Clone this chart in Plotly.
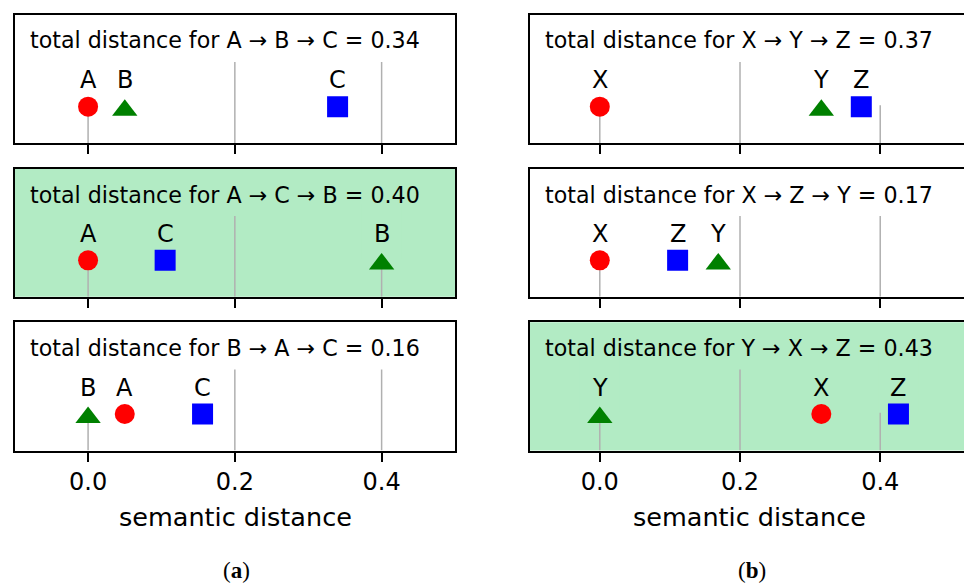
import plotly.graph_objects as go
from plotly.subplots import make_subplots

# ---------------- data ----------------
paths_a = [["A", "B", "C"], ["A", "C", "B"], ["B", "A", "C"]]
positions_a = [[0.0, 0.05, 0.34], [0.0, 0.105, 0.40], [0.0, 0.05, 0.156]]
totals_a = [0.34, 0.40, 0.16]

paths_b = [["X", "Y", "Z"], ["X", "Z", "Y"], ["Y", "X", "Z"]]
positions_b = [[0.0, 0.316, 0.373], [0.0, 0.111, 0.169], [0.0, 0.316, 0.426]]
totals_b = [0.37, 0.17, 0.43]

best_a = 1  # highlighted panel (row index) in column a
best_b = 2  # highlighted panel (row index) in column b

tick_vals = [0.0, 0.2, 0.4]
tick_text = ["0.0", "0.2", "0.4"]
x_title = "semantic distance"
panel_letters = ["a", "b"]

# ---------------- style ----------------
W, H = 964, 586
FONT = "DejaVu Sans"
GREEN_BG = "rgb(178,235,196)"
style = {
    "A": ("circle", "#ff0000", 20, 0.0), "X": ("circle", "#ff0000", 20, 0.0),
    "B": ("triangle-up", "#008000", 22, -0.028), "Y": ("triangle-up", "#008000", 22, -0.028),
    "C": ("square", "#0000ff", 21, 0.0), "Z": ("square", "#0000ff", 21, 0.0),
}
# positions in window pixels
col_px = [(14.7, 455.0), (529.7, 964.0)]
row_px = [(14.7, 143.3), (169.0, 296.7), (322.3, 450.5)]
x_ranges = [[-0.1, 0.5], [-0.1, 0.5195]]
MARK_Y = 0.285
LABEL_Y = 0.49
TITLE_Y = 0.80
GRID_TOP = 0.632


def px_x(x):
    return x / W


def px_y(y):
    return 1 - y / H


fig = make_subplots(rows=3, cols=2)

columns = [
    (paths_a, positions_a, totals_a, best_a),
    (paths_b, positions_b, totals_b, best_b),
]

shapes_bg, shapes_grid, shapes_cover = [], [], []
annotations = []

for c, (paths, positions, totals, best) in enumerate(columns):
    for r in range(3):
        idx = r * 2 + c + 1
        xa = "x" if idx == 1 else f"x{idx}"
        ya = "y" if idx == 1 else f"y{idx}"
        panel_color = GREEN_BG if r == best else "white"

        x0p, x1p = col_px[c]
        ytop, ybot = row_px[r]
        fig.layout[f"xaxis{'' if idx == 1 else idx}"].update(
            domain=[max(0, px_x(x0p)), min(1, px_x(x1p))], range=x_ranges[c],
            showgrid=False, zeroline=False,
            showline=True, mirror=True, linecolor="black", linewidth=2,
            ticks="outside", ticklen=9, tickwidth=1.5, tickcolor="black",
            tickvals=tick_vals, ticktext=tick_text,
            showticklabels=(r == 2),
            tickfont=dict(family=FONT, size=24, color="black"),
        )
        fig.layout[f"yaxis{'' if idx == 1 else idx}"].update(
            domain=[px_y(ybot), px_y(ytop)], range=[0, 1],
            showgrid=False, zeroline=False, showticklabels=False, ticks="",
            showline=True, mirror=(c == 0), linecolor="black", linewidth=2,
        )

        if r == best:
            shapes_bg.append(dict(type="rect", xref=f"{xa} domain", yref=f"{ya} domain",
                                  x0=0, x1=1, y0=0, y1=1, fillcolor=panel_color,
                                  line=dict(width=0), layer="below"))
        for tv in tick_vals:
            shapes_grid.append(dict(type="line", xref=xa, yref=ya, x0=tv, x1=tv,
                                    y0=0, y1=GRID_TOP, line=dict(color="#b0b0b0", width=1.5),
                                    layer="below"))

        path = paths[r]
        pos = positions[r]
        for name, xv in zip(path, pos):
            sym, col, sz, dy = style[name]
            fig.add_trace(go.Scatter(x=[xv], y=[MARK_Y + dy], mode="markers",
                                     marker=dict(symbol=sym, color=col, size=sz,
                                                 line=dict(width=0)),
                                     showlegend=False, hoverinfo="skip"),
                          row=r + 1, col=c + 1)
            shapes_cover.append(dict(type="rect", xref=xa, yref=ya,
                                     xsizemode="pixel", xanchor=xv, x0=-20, x1=20,
                                     y0=0.295, y1=0.72, fillcolor=panel_color,
                                     line=dict(width=0), layer="below"))
            annotations.append(dict(xref=xa, yref=ya, x=xv, y=LABEL_Y, text=name,
                                    showarrow=False, xanchor="center", yanchor="middle",
                                    font=dict(family=FONT, size=24, color="black")))

        title = "total distance for " + " \u2192 ".join(path) + f" = {totals[r]:.2f}"
        annotations.append(dict(xref=f"{xa} domain", yref=ya, x=0, y=TITLE_Y,
                                xshift=13, text=title, showarrow=False,
                                xanchor="left", yanchor="middle",
                                font=dict(family=FONT, size=22.2, color="black")))

# axis titles and panel letters
for c in range(2):
    cx = [235.0, 749.0][c]
    annotations.append(dict(xref="paper", yref="paper", x=px_x(cx), y=px_y(517),
                            text=x_title, showarrow=False, xanchor="center",
                            yanchor="middle",
                            font=dict(family=FONT, size=25.5, color="black")))
    annotations.append(dict(xref="paper", yref="paper", x=px_x([236.0, 752.0][c]),
                            y=px_y(570), text=f"(<b>{panel_letters[c]}</b>)",
                            showarrow=False, xanchor="center", yanchor="middle",
                            font=dict(family="Liberation Serif", size=23, color="black")))

fig.update_layout(
    width=W, height=H, margin=dict(l=0, r=0, t=0, b=0),
    paper_bgcolor="white", plot_bgcolor="white",
    shapes=shapes_bg + shapes_grid + shapes_cover,
    annotations=annotations, showlegend=False,
)

fig.write_html("out.html",
               config={"displayModeBar": False},
               post_script="document.body.style.margin='0px';"
                           "document.body.style.overflow='hidden';")
